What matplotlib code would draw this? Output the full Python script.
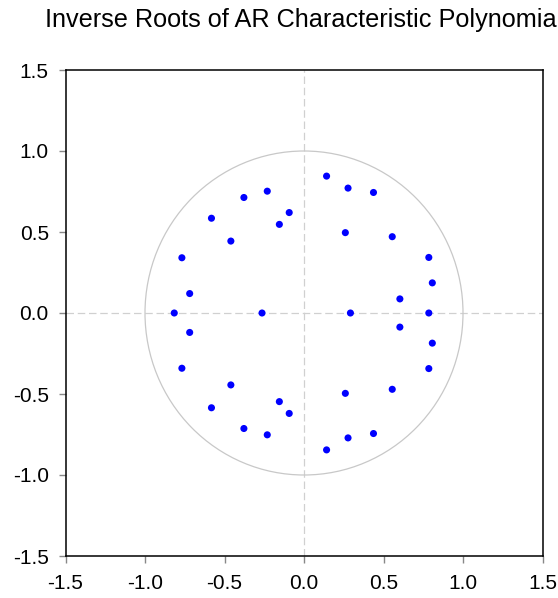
#
# Inverse roots of the AR characteristic polynomial (unit circle plot)
#

import numpy as np
import matplotlib.pyplot as plt
from matplotlib.patches import Circle

plt.rcParams['font.family'] = ['Liberation Sans', 'DejaVu Sans']

# roots in the upper half plane (plus the real ones); conjugates mirror them
re_upper = [0.142, 0.277, 0.437, 0.260, 0.555, 0.785, 0.807, 0.603,
            -0.093, -0.155, -0.231, -0.378, -0.582, -0.460, -0.768, -0.719]
im_upper = [0.845, 0.771, 0.744, 0.496, 0.471, 0.343, 0.186, 0.087,
            0.620, 0.547, 0.752, 0.713, 0.585, 0.444, 0.341, 0.120]
re_real = [0.785, 0.292, -0.816, -0.264]

re = np.array(re_upper + re_upper + re_real)
im = np.array(im_upper + [-v for v in im_upper] + [0.0] * len(re_real))

ticks = [-1.5, -1.0, -0.5, 0.0, 0.5, 1.0, 1.5]
tick_labels = ['-1.5', '-1.0', '-0.5', '0.0', '0.5', '1.0', '1.5']

fig = plt.figure(figsize=(5.58, 5.98), dpi=100)
ax = fig.add_axes([65.5 / 558, 1 - 556 / 598, 477 / 558, 486 / 598])

ax.axhline(0, color='#d0d0d0', lw=0.9, ls=(0, (6, 3)), zorder=1)
ax.axvline(0, color='#d0d0d0', lw=0.9, ls=(0, (6, 3)), zorder=1)
ax.add_patch(Circle((0, 0), 1.0, fill=False, ec='#c8c8c8', lw=0.9, zorder=1))

ax.scatter(re, im, s=26, color='#0000ff', edgecolors='none', zorder=3)

ax.set_xlim(-1.5, 1.5)
ax.set_ylim(-1.5, 1.5)
ax.set_xticks(ticks, tick_labels)
ax.set_yticks(ticks, tick_labels)
ax.tick_params(direction='out', length=5, width=1, color='#888888',
               labelsize=15)
ax.tick_params(axis='x', pad=8)
ax.tick_params(axis='y', pad=7)
for s in ax.spines.values():
    s.set_linewidth(1.1)
    s.set_color('black')

# title is centred on the plot and runs past the right edge, as in the source
fig.text((65.5 + 477 / 2) / 558, 1 - 27 / 598,
         'Inverse Roots of AR Characteristic Polynomial',
         ha='center', va='baseline', fontsize=18.2)

plt.savefig('out.png', dpi=100)
